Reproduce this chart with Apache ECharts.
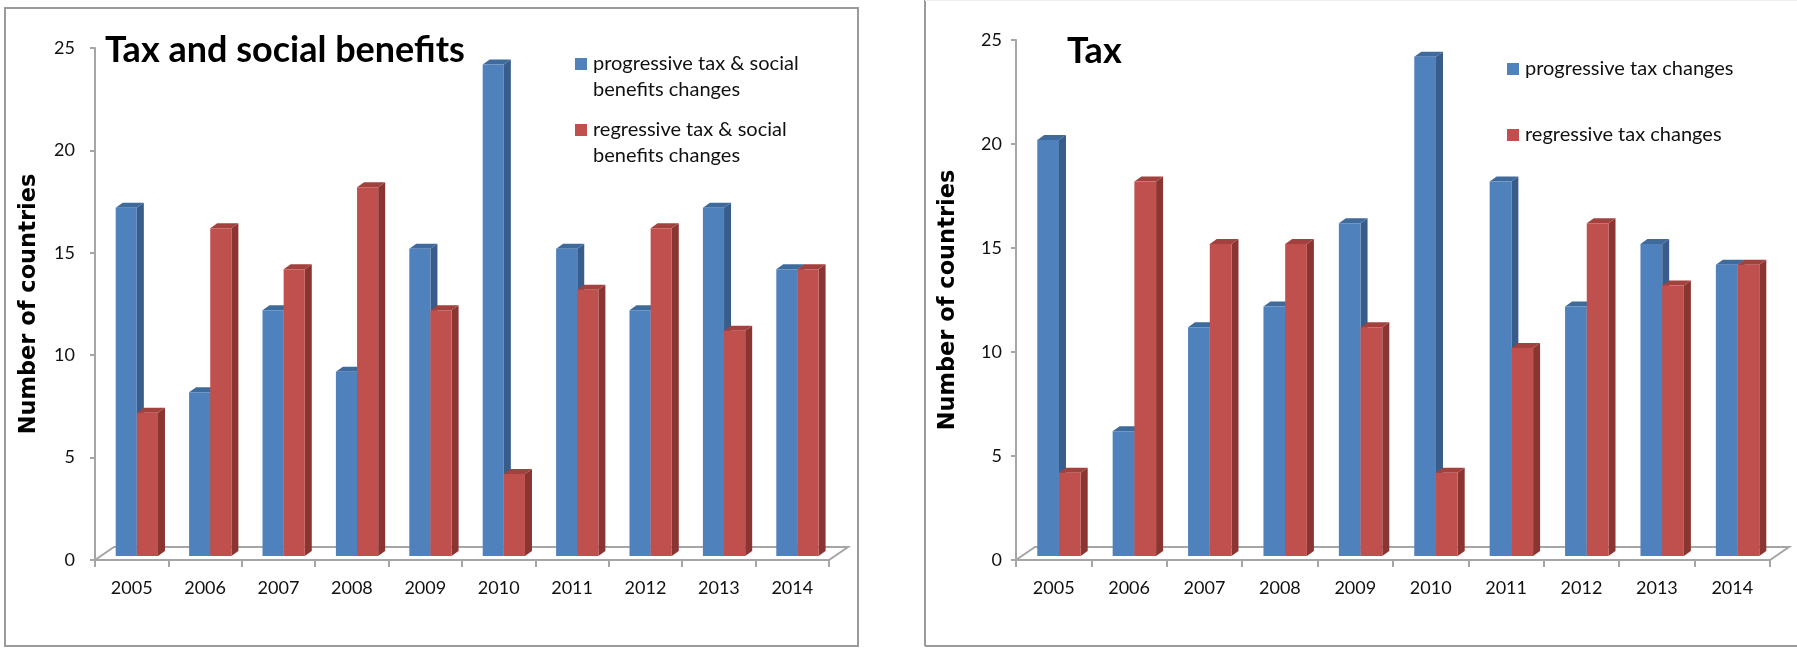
<!DOCTYPE html>
<html>
<head>
<meta charset="utf-8">
<script src="https://cdn.jsdelivr.net/npm/echarts@6/dist/echarts.min.js"></script>
<style>
html,body{margin:0;padding:0;background:#fff;}
#c{width:1797px;height:648px;}
</style>
</head>
<body>
<div id="c"></div>
<script>
// ---- data ----
const years = ['2005','2006','2007','2008','2009','2010','2011','2012','2013','2014'];
const yTicks = [0, 5, 10, 15, 20, 25];
const tsbProgressive = [17, 8, 12, 9, 15, 24, 15, 12, 17, 14];
const tsbRegressive  = [7, 16, 14, 18, 12, 4, 13, 16, 11, 14];
const taxProgressive = [20, 6, 11, 12, 16, 24, 18, 12, 15, 14];
const taxRegressive  = [4, 18, 15, 15, 11, 4, 10, 16, 13, 14];
const leftTitle = 'Tax and social benefits';
const rightTitle = 'Tax';
const yName = 'Number of countries';
const leftNames = ['progressive tax & social\nbenefits changes', 'regressive tax & social\nbenefits changes'];
const rightNames = ['progressive tax changes', 'regressive tax changes'];

// ---- styling ----
const BLUE = {front:'#4F81BD', side:'#385D8A', top:'#3F6A9C'};
const RED  = {front:'#C0504D', side:'#8A3532', top:'#A3413E'};
const AXIS = '#A6A6A6';
const FONT = 'Lato';

function bar3D(side, col) {
  return function (params, api) {
    const c = api.value(0), v = api.value(1);
    const p0 = api.coord([c, 0]);
    const p1 = api.coord([c, v]);
    const band = api.size([1, 0])[0];
    const w = band * 0.288;
    const sx = band * 0.07, sy = -4;
    const x = (side === 0 ? p0[0] - w : p0[0]) + sx;
    const yb = p0[1] + sy, yt = p1[1] + sy;
    const dx = 7, dy = 5;
    return {
      type: 'group',
      children: [
        {type:'polygon', shape:{points:[[x+w,yt],[x+w+dx,yt-dy],[x+w+dx,yb-dy],[x+w,yb]]}, style:{fill:col.side}},
        {type:'polygon', shape:{points:[[x,yt],[x+dx,yt-dy],[x+w+dx,yt-dy],[x+w,yt]]}, style:{fill:col.top}},
        {type:'rect', shape:{x:x, y:yt, width:w, height:yb-yt}, style:{fill:col.front}}
      ]
    };
  };
}

function seriesFor(idx, side, col, vals, name) {
  return {
    type: 'custom', name: name,
    xAxisIndex: idx, yAxisIndex: idx,
    renderItem: bar3D(side, col),
    encode: {x: 0, y: 1},
    data: vals.map((v, i) => [i, v]),
    z: 3
  };
}

function xAxisFor(idx) {
  return {
    type: 'category', gridIndex: idx, data: years,
    boundaryGap: true,
    axisLine: {lineStyle: {color: AXIS, width: 2}},
    axisTick: {show: true, length: 7, lineStyle: {color: AXIS, width: 2}, alignWithLabel: false},
    axisLabel: {color: '#111', fontFamily: FONT, fontSize: 18, margin: 19}
  };
}
function yAxisFor(idx, margin, gap) {
  return {
    type: 'value', gridIndex: idx, min: yTicks[0], max: yTicks[yTicks.length-1], interval: 5,
    name: yName, nameLocation: 'middle', nameGap: gap, nameRotate: 90,
    nameTextStyle: {fontFamily: 'DejaVu Sans', fontWeight: 'bold', fontSize: 22.5, color: '#000'},
    axisLine: {show: true, lineStyle: {color: AXIS, width: 2}},
    axisTick: {show: true, length: 5, lineStyle: {color: AXIS, width: 2}},
    splitLine: {show: false},
    axisLabel: {color: '#111', fontFamily: FONT, fontSize: 18, margin: margin}
  };
}

function legendItems(x, ys, names, cols, size) {
  const out = [];
  names.forEach((n, i) => {
    out.push({type:'rect', left: x, top: ys[i] - size/2, shape:{width:size, height:size}, style:{fill: cols[i].front}, z: 10});
    out.push({type:'text', left: x + size + 6, top: ys[i] - 13,
      style:{text: n, fontFamily: FONT, fontSize: 20, lineHeight: 26, fill:'#111'}, z: 10});
  });
  return out;
}

const graphics = [
  // frames
  {type:'rect', shape:{x:5, y:8, width:853, height:638}, style:{fill:'none', stroke:'#9A9A9A', lineWidth:2}, z:0},
  {type:'line', shape:{x1:925, y1:0, x2:925, y2:646}, style:{stroke:'#9A9A9A', lineWidth:2}, z:0},
  {type:'line', shape:{x1:925, y1:646, x2:1797, y2:646}, style:{stroke:'#9A9A9A', lineWidth:2}, z:0},
  {type:'line', shape:{x1:925, y1:0.5, x2:1797, y2:0.5}, style:{stroke:'#EEEEEE', lineWidth:1}, z:0},
  // floors
  {type:'polygon', shape:{points:[[95,560],[829,560],[848,547],[114,547]]}, style:{fill:'none', stroke:AXIS, lineWidth:2}, z:1},
  {type:'polygon', shape:{points:[[1016,560],[1770,560],[1789,547],[1035,547]]}, style:{fill:'none', stroke:AXIS, lineWidth:2}, z:1},
  // titles
  {type:'text', left:105, top:32, style:{text:leftTitle, fontFamily:FONT, fontWeight:'bold', fontSize:36, fill:'#000'}, z:10},
  {type:'text', left:1067, top:33, style:{text:rightTitle, fontFamily:FONT, fontWeight:'bold', fontSize:36, fill:'#000'}, z:10}
].concat(
  legendItems(575, [64, 130], leftNames, [BLUE, RED], 12),
  legendItems(1507, [69, 135], rightNames, [BLUE, RED], 12)
);

const chart = echarts.init(document.getElementById('c'), null, {renderer: 'canvas'});
chart.setOption({
  backgroundColor: '#fff',
  animation: false,
  grid: [
    {left: 95, width: 734, top: 48, bottom: 88},
    {left: 1016, width: 754, top: 40, bottom: 88}
  ],
  xAxis: [xAxisFor(0), xAxisFor(1)],
  yAxis: [yAxisFor(0, 20, 54), yAxisFor(1, 14, 56)],
  series: [
    seriesFor(0, 0, BLUE, tsbProgressive, leftNames[0]),
    seriesFor(0, 1, RED, tsbRegressive, leftNames[1]),
    seriesFor(1, 0, BLUE, taxProgressive, rightNames[0]),
    seriesFor(1, 1, RED, taxRegressive, rightNames[1])
  ],
  graphic: graphics
});
</script>
</body>
</html>
